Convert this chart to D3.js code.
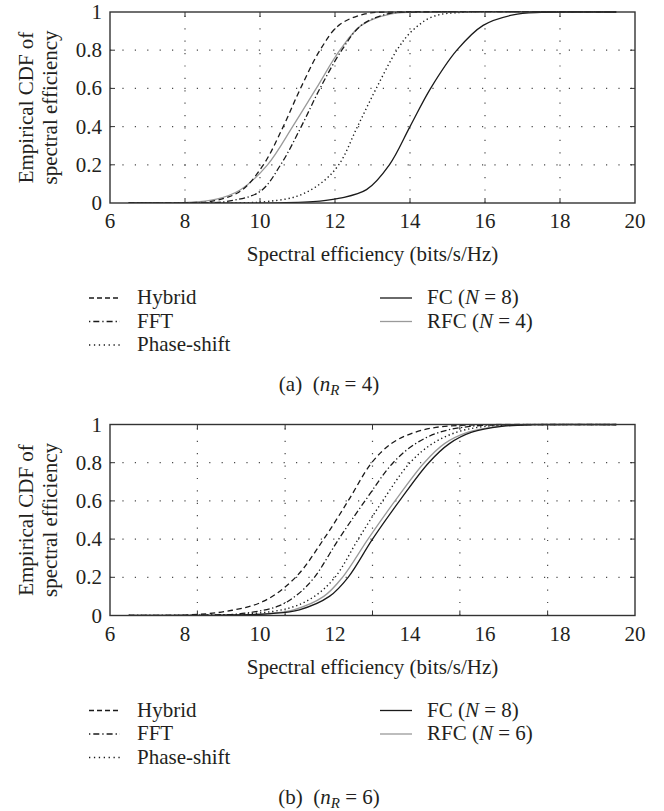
<!DOCTYPE html>
<html>
<head>
<meta charset="utf-8">
<script src="https://cdnjs.cloudflare.com/ajax/libs/d3/7.8.5/d3.min.js"></script>
<style>
	body { margin: 0; background: #fff; }
	text { font-family: "Liberation Serif", "DejaVu Serif", serif; fill: #231f20; }
</style>
</head>
<body>
<div id="chart"></div>
<script>
'use strict';

// axis ticks
const xTicks = [6, 8, 10, 12, 14, 16, 18, 20];
const yTicks = [0, 0.2, 0.4, 0.6, 0.8, 1];
const yTickLabels = ['0', '0.2', '0.4', '0.6', '0.8', '1'];
// vertical grid lines (the second panel has them off the labelled ticks)
const gridXTop = [8, 10, 12, 14, 16, 18];
const gridXBottom = [8.33, 10.67, 13, 15.33, 17.67];

const seriesNames = ['Hybrid', 'FFT', 'Phase-shift', 'FC', 'RFC'];

// (a) n_R = 4 : [spectral efficiency, empirical CDF]
const hybridA = [[6.5, 0], [8, 0.001], [8.8, 0.012], [9.5, 0.065], [10.09, 0.2], [10.62, 0.4], [11.08, 0.6], [11.6, 0.8], [12.1, 0.93], [12.8, 0.99], [13.6, 1], [19.5, 1]];
const fftA = [[6.5, 0], [8.5, 0.001], [9.11, 0.008], [10.0, 0.06], [10.55, 0.2], [11.1, 0.4], [11.6, 0.6], [12.18, 0.8], [12.7, 0.93], [13.4, 0.99], [14.2, 1], [19.5, 1]];
const phaseA = [[6.5, 0], [9.5, 0.001], [10.2, 0.008], [10.98, 0.035], [11.6, 0.1], [12.1, 0.2], [12.6, 0.4], [13.1, 0.6], [13.65, 0.8], [14.05, 0.9], [14.6, 0.975], [15.5, 1], [19.5, 1]];
const fcA = [[6.5, 0], [10.5, 0.001], [11.6, 0.01], [12.13, 0.025], [12.84, 0.07], [13.45, 0.2], [14.0, 0.4], [14.55, 0.6], [15.25, 0.8], [15.95, 0.93], [16.75, 0.985], [17.5, 0.998], [18.2, 1], [19.5, 1]];
const rfcA = [[6.5, 0], [8, 0.002], [8.84, 0.02], [9.47, 0.068], [10.2, 0.2], [10.87, 0.4], [11.5, 0.6], [12.13, 0.8], [12.7, 0.93], [13.5, 0.99], [14.5, 1], [19.5, 1]];

// (b) n_R = 6
const hybridB = [[6.5, 0], [8, 0.002], [9.1, 0.022], [10.1, 0.075], [10.95, 0.2], [11.7, 0.4], [12.35, 0.6], [12.98, 0.8], [13.5, 0.9], [14.0, 0.95], [14.6, 0.982], [15.3, 0.995], [16.3, 1], [19.5, 1]];
const fftB = [[6.5, 0], [8.5, 0.002], [9.6, 0.012], [10.5, 0.05], [11.0, 0.11], [11.45, 0.2], [12.1, 0.4], [12.8, 0.6], [13.55, 0.8], [14.15, 0.9], [14.8, 0.96], [15.6, 0.99], [16.6, 0.999], [17.5, 1], [19.5, 1]];
const phaseB = [[6.5, 0], [8.5, 0.001], [9.8, 0.01], [10.8, 0.04], [11.45, 0.1], [12.0, 0.2], [12.62, 0.4], [13.27, 0.6], [14.0, 0.8], [14.6, 0.9], [15.25, 0.96], [16.0, 0.99], [17.0, 0.999], [17.8, 1], [19.5, 1]];
const fcB = [[6.5, 0], [9, 0.002], [10.3, 0.01], [11.05, 0.03], [11.85, 0.1], [12.35, 0.2], [13.0, 0.4], [13.72, 0.6], [14.5, 0.8], [15.05, 0.9], [15.65, 0.96], [16.45, 0.99], [17.3, 0.999], [18, 1], [19.5, 1]];
const rfcB = [[6.5, 0], [9, 0.002], [10.2, 0.01], [10.9, 0.03], [11.7, 0.1], [12.2, 0.2], [12.88, 0.4], [13.6, 0.6], [14.38, 0.8], [14.92, 0.9], [15.55, 0.96], [16.35, 0.99], [17.2, 0.999], [17.9, 1], [19.5, 1]];

const styles = {
	'Hybrid':      { color: '#1a1a1a', dash: '5.5,3.5', legendDash: '5,3' },
	'FFT':         { color: '#1a1a1a', dash: '6,2.5,1.3,2.5', legendDash: '1.3,3,6,3' },
	'Phase-shift': { color: '#1a1a1a', dash: '1.3,2.8', legendDash: '1.3,3.6' },
	'FC':          { color: '#1a1a1a', dash: null, legendDash: null },
	'RFC':         { color: '#9a9a9a', dash: null, legendDash: null }
};

const W = 664, H = 811;
const margin = { left: 110, right: 29 };
const plotH = 191;
const fontSize = '21px';

const svg = d3.select('#chart').append('svg')
	.attr('width', W)
	.attr('height', H);

function drawPanel(top, datas, gridX, rfcN, caption) {
	const x = d3.scaleLinear().domain([6, 20]).range([margin.left, W - margin.right]);
	const y = d3.scaleLinear().domain([0, 1]).range([top + plotH, top]);
	const g = svg.append('g');
	const clipId = 'clip' + Math.round(top);

	g.append('clipPath').attr('id', clipId)
		.append('rect')
		.attr('x', x(6)).attr('y', y(1) - 1)
		.attr('width', x(20) - x(6)).attr('height', y(0) - y(1) + 1);

	// dotted grid
	g.selectAll('.gx').data(gridX).enter().append('line')
		.attr('x1', d => x(d)).attr('x2', d => x(d))
		.attr('y1', y(0)).attr('y2', y(1))
		.attr('stroke', '#4a4a4a').attr('stroke-width', 1.2)
		.attr('stroke-dasharray', '1.2,11.2');
	g.selectAll('.gy').data(yTicks.slice(1, -1)).enter().append('line')
		.attr('x1', x(6)).attr('x2', x(20))
		.attr('y1', d => y(d)).attr('y2', d => y(d))
		.attr('stroke', '#4a4a4a').attr('stroke-width', 1.2)
		.attr('stroke-dasharray', '1.2,11.2');

	// inward ticks on all four sides
	const tl = 5;
	gridX.forEach(d => {
		g.append('line').attr('x1', x(d)).attr('x2', x(d)).attr('y1', y(0)).attr('y2', y(0) - tl)
			.attr('stroke', '#333').attr('stroke-width', 1);
		g.append('line').attr('x1', x(d)).attr('x2', x(d)).attr('y1', y(1)).attr('y2', y(1) + tl)
			.attr('stroke', '#333').attr('stroke-width', 1);
	});
	yTicks.slice(1, -1).forEach(d => {
		g.append('line').attr('x1', x(6)).attr('x2', x(6) + tl).attr('y1', y(d)).attr('y2', y(d))
			.attr('stroke', '#333').attr('stroke-width', 1);
		g.append('line').attr('x1', x(20)).attr('x2', x(20) - tl).attr('y1', y(d)).attr('y2', y(d))
			.attr('stroke', '#333').attr('stroke-width', 1);
	});

	// curves
	const lineDrawer = d3.line()
		.curve(d3.curveCatmullRom.alpha(0.5))
		.x(d => x(d[0]))
		.y(d => y(Math.max(0, d[1])));

	// draw gray first so black lines sit on top
	const order = ['RFC', 'Phase-shift', 'FFT', 'Hybrid', 'FC'];
	order.forEach(name => {
		const st = styles[name];
		g.append('path')
			.attr('d', lineDrawer(datas[name]))
			.attr('clip-path', 'url(#' + clipId + ')')
			.attr('fill', 'none')
			.attr('stroke', st.color)
			.attr('stroke-width', name === 'Phase-shift' ? 1.4 : 1.3)
			.attr('stroke-dasharray', st.dash);
	});

	// box
	g.append('rect')
		.attr('x', x(6)).attr('y', y(1))
		.attr('width', x(20) - x(6)).attr('height', y(0) - y(1))
		.attr('fill', 'none').attr('stroke', '#333').attr('stroke-width', 1.4);

	// tick labels
	g.selectAll('.xl').data(xTicks).enter().append('text')
		.attr('x', d => x(d)).attr('y', y(0) + 25)
		.attr('text-anchor', 'middle')
		.style('font-size', fontSize)
		.text(d => d);
	g.selectAll('.yl').data(yTicks).enter().append('text')
		.attr('x', x(6) - 8).attr('y', d => y(d) + 7)
		.attr('text-anchor', 'end')
		.style('font-size', fontSize)
		.text((d, i) => yTickLabels[i]);

	// axis titles
	g.append('text')
		.attr('x', (x(6) + x(20)) / 2).attr('y', y(0) + 58)
		.attr('text-anchor', 'middle')
		.style('font-size', fontSize)
		.text('Spectral efficiency (bits/s/Hz)');
	const midY = (y(0) + y(1)) / 2;
	g.append('text')
		.attr('transform', 'translate(33,' + midY + ') rotate(-90)')
		.attr('text-anchor', 'middle')
		.style('font-size', fontSize)
		.text('Empirical CDF of');
	g.append('text')
		.attr('transform', 'translate(56.5,' + midY + ') rotate(-90)')
		.attr('text-anchor', 'middle')
		.style('font-size', fontSize)
		.text('spectral efficiency');

	// legend
	const legTop = y(0) + 101;
	const rowH = 23.5;
	const legendItems = [
		{ name: 'Hybrid', col: 0, row: 0 },
		{ name: 'FFT', col: 0, row: 1 },
		{ name: 'Phase-shift', col: 0, row: 2 },
		{ name: 'FC', col: 1, row: 0, n: 8 },
		{ name: 'RFC', col: 1, row: 1, n: rfcN }
	];
	const colX = [[89, 120, 137], [380, 412, 427]];
	legendItems.forEach(it => {
		const st = styles[it.name];
		const ly = legTop + it.row * rowH;
		g.append('line')
			.attr('x1', colX[it.col][0]).attr('x2', colX[it.col][1])
			.attr('y1', ly - 6).attr('y2', ly - 6)
			.attr('stroke', st.color).attr('stroke-width', 1.3)
			.attr('stroke-dasharray', st.legendDash);
		const t = g.append('text')
			.attr('x', colX[it.col][2]).attr('y', ly)
			.style('font-size', fontSize);
		if (it.n === undefined) {
			t.text(it.name);
		} else {
			t.append('tspan').text(it.name + ' (');
			t.append('tspan').style('font-style', 'italic').text('N');
			t.append('tspan').text(' = ' + it.n + ')');
		}
	});

	// caption
	const cap = g.append('text')
		.attr('x', 329).attr('y', y(0) + 188)
		.attr('text-anchor', 'middle')
		.style('font-size', fontSize);
	cap.append('tspan').text('(' + caption.letter + ')\u2002(');
	cap.append('tspan').style('font-style', 'italic').text('n');
	cap.append('tspan').style('font-style', 'italic').style('font-size', '15px')
		.attr('dy', 4).text('R');
	cap.append('tspan').attr('dy', -4).text(' = ' + caption.n + ')');
}

drawPanel(12, { 'Hybrid': hybridA, 'FFT': fftA, 'Phase-shift': phaseA, 'FC': fcA, 'RFC': rfcA }, gridXTop, 4, { letter: 'a', n: 4 });
drawPanel(424.5, { 'Hybrid': hybridB, 'FFT': fftB, 'Phase-shift': phaseB, 'FC': fcB, 'RFC': rfcB }, gridXBottom, 6, { letter: 'b', n: 6 });
</script>
</body>
</html>
